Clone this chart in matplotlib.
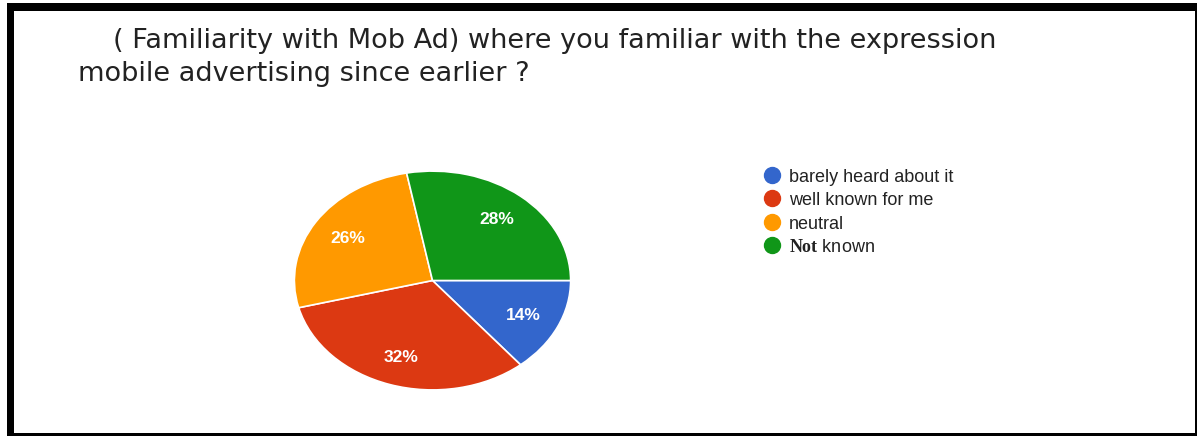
import matplotlib
matplotlib.use("Agg")
import matplotlib.pyplot as plt
from matplotlib.patches import Rectangle
from matplotlib.lines import Line2D

# survey answers, share of respondents
categories = ["barely heard about it", "well known for me", "neutral", "Not known"]
shares = [14, 32, 26, 28]
colors = ["#3366cc", "#dc3912", "#ff9900", "#109618"]
legend_labels = ["barely heard about it", "well known for me", "neutral",
                 r"$\mathbf{Not}$ known"]

title_1 = "( Familiarity with Mob Ad) where you familiar with the expression"
title_2 = "mobile advertising since earlier ?"

plt.rcParams["mathtext.fontset"] = "custom"
plt.rcParams["mathtext.bf"] = "Liberation Serif:bold"
plt.rcParams["mathtext.rm"] = "Liberation Sans"

W, H = 1197, 439
fig = plt.figure(figsize=(W / 100, H / 100), dpi=100)
fig.patch.set_facecolor("white")


def px(x, y, w, h):
    # pixel box (from top-left) -> figure fraction
    return [x / W, 1 - (y + h) / H, w / W, h / H]


# black frame round the chart
b = px(7, 4, 1190, 433)
fig.add_artist(Rectangle((b[0], b[1]), b[2], b[3], transform=fig.transFigure,
                         facecolor="black", edgecolor="none", zorder=0))
b = px(14, 12, 1181, 422)
fig.add_artist(Rectangle((b[0], b[1]), b[2], b[3], transform=fig.transFigure,
                         facecolor="white", edgecolor="none", zorder=0))

fig.text(113 / W, 1 - 48 / H, title_1, fontsize=19.5, family="DejaVu Sans",
         color="#222222", ha="left", va="baseline")
fig.text(78 / W, 1 - 81 / H, title_2, fontsize=19.5, family="DejaVu Sans",
         color="#222222", ha="left", va="baseline")

ax = fig.add_axes(px(293, 171, 279, 221))
wedges, texts, autotexts = ax.pie(
    shares, colors=colors, startangle=0, counterclock=False, radius=1,
    autopct="%d%%", pctdistance=0.73,
    wedgeprops=dict(edgecolor="white", linewidth=1.2),
    textprops=dict(color="white", fontsize=12.5, fontweight="bold",
                   family="Liberation Sans"))
ax.set_aspect("auto")
ax.set_xlim(-1.01, 1.01)
ax.set_ylim(-1.01, 1.01)

handles = [Line2D([], [], marker="o", linestyle="none", markersize=11.5,
                  markerfacecolor=c, markeredgecolor=c) for c in colors]
fig.legend(handles, legend_labels, loc="upper left",
           bbox_to_anchor=(763 / W, 1 - 169 / H), frameon=False,
           prop=dict(family="Liberation Sans", size=13),
           labelcolor="#222222", handlelength=0.95, handletextpad=0.5,
           labelspacing=0.36, borderpad=0, borderaxespad=0)

fig.savefig("out.png", dpi=100, facecolor="white")
